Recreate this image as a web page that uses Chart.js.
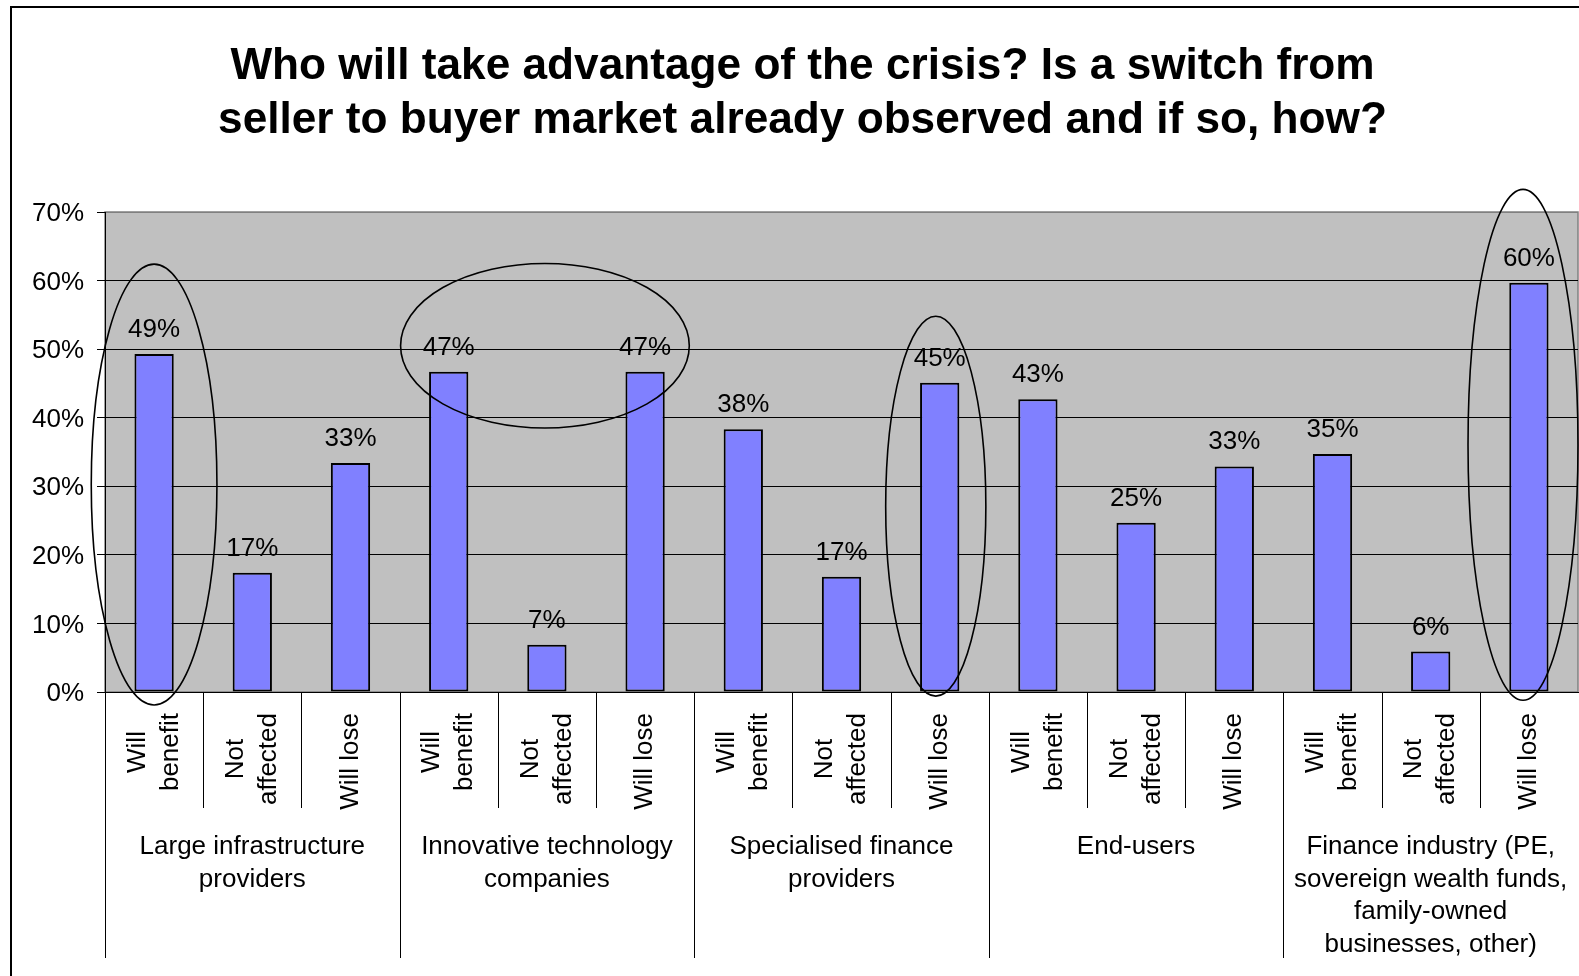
<!DOCTYPE html>
<html>
<head>
<meta charset="utf-8">
<title>Who will take advantage of the crisis?</title>
<script src="https://cdn.jsdelivr.net/npm/chart.js@4.4.1/dist/chart.umd.min.js"></script>
<style>
  html, body { margin: 0; padding: 0; background: #fff; }
  #wrap { width: 1579px; height: 976px; position: relative; }
</style>
</head>
<body>
<div id="wrap"><canvas id="myChart"></canvas></div>
<script>
// answers, repeated inside every group
const answers = [['Will', 'benefit'], ['Not', 'affected'], ['Will lose']];

// groups of market players (lines as wrapped in the original)
const groups = [
  ['Large infrastructure', 'providers'],
  ['Innovative technology', 'companies'],
  ['Specialised finance', 'providers'],
  ['End-users'],
  ['Finance industry (PE,', 'sovereign wealth funds,', 'family-owned', 'businesses, other)']
];

// share of answers in %, 3 per group
const shares = [49.3, 17.4, 33.4, 46.7, 6.9, 46.7, 38.3, 16.8, 45.1, 42.7, 24.7, 32.9, 34.7, 5.9, 59.7];

const yMax = 70;
const yStep = 10;

// hand drawn ellipses: centre (category index), half width (categories), low/high (%)
const circled = [
  { at: 0, half: 0.64, low: -1.9, high: 62.4 },
  { at: 3.98, half: 1.47, low: 38.5, high: 62.5 },
  { at: 7.96, half: 0.51, low: -0.6, high: 54.8 },
  { at: 13.94, half: 0.56, low: -1.2, high: 73.3 }
];

const family = '"Liberation Sans", Arial, sans-serif';
const textFont = '26px ' + family;

let labels = [];
groups.forEach(g => answers.forEach(a => labels.push(g.join(' ') + ' - ' + a.join(' '))));

const excelLook = {
  id: 'excelLook',
  beforeDraw(chart) {
    const { ctx, chartArea: a } = chart;
    ctx.save();
    ctx.fillStyle = '#fff';
    ctx.fillRect(0, 0, chart.width, chart.height);
    // outer chart frame
    ctx.strokeStyle = '#000';
    ctx.lineWidth = 2;
    ctx.strokeRect(11, 7, chart.width + 20, chart.height + 20);
    // plot area
    ctx.fillStyle = '#c0c0c0';
    ctx.fillRect(a.left, a.top, a.right - a.left, a.bottom - a.top);
    ctx.strokeStyle = '#808080';
    ctx.lineWidth = 1.5;
    ctx.strokeRect(a.left, a.top, a.right - a.left, a.bottom - a.top);
    ctx.restore();
  },
  afterDatasetsDraw(chart) {
    const ctx = chart.ctx;
    const meta = chart.getDatasetMeta(0);
    ctx.save();
    ctx.font = textFont;
    ctx.fillStyle = '#000';
    ctx.textAlign = 'center';
    ctx.textBaseline = 'alphabetic';
    meta.data.forEach((bar, i) => {
      ctx.fillText(Math.round(shares[i]) + '%', bar.x, bar.y - 17);
    });
    ctx.restore();
  },
  afterDraw(chart) {
    const { ctx, chartArea: a } = chart;
    const x = chart.scales.x;
    const y = chart.scales.y;
    ctx.save();

    // separators under the axis
    ctx.strokeStyle = '#000';
    ctx.lineWidth = 1;
    for (let k = 0; k < shares.length; k++) {
      const px = Math.round(x.getPixelForValue(k - 0.5)) + 0.5;
      ctx.beginPath();
      ctx.moveTo(px, a.bottom);
      ctx.lineTo(px, a.bottom + (k % 3 === 0 ? 266 : 116));
      ctx.stroke();
    }

    ctx.font = textFont;
    ctx.fillStyle = '#000';
    ctx.textAlign = 'center';
    ctx.textBaseline = 'middle';

    // rotated answer labels
    for (let i = 0; i < shares.length; i++) {
      const lines = answers[i % 3];
      const w = Math.max(...lines.map(l => ctx.measureText(l).width));
      ctx.save();
      ctx.translate(x.getPixelForValue(i), a.bottom + 21 + w / 2);
      ctx.rotate(-Math.PI / 2);
      lines.forEach((l, j) => ctx.fillText(l, 0, (j - (lines.length - 1) / 2) * 33));
      ctx.restore();
    }

    // group labels
    groups.forEach((g, gi) => {
      const cx = x.getPixelForValue(gi * 3 + 1);
      g.forEach((l, j) => ctx.fillText(l, cx, a.bottom + 155 + j * 32.6));
    });

    // ellipses
    ctx.strokeStyle = '#000';
    ctx.lineWidth = 1.6;
    circled.forEach(c => {
      const cx = x.getPixelForValue(c.at);
      const rx = x.getPixelForValue(c.at + c.half) - cx;
      const top = y.getPixelForValue(c.high);
      const bot = y.getPixelForValue(c.low);
      ctx.beginPath();
      ctx.ellipse(cx, (top + bot) / 2, rx, (bot - top) / 2, 0, 0, Math.PI * 2);
      ctx.stroke();
    });
    ctx.restore();
  }
};

var ctx = document.getElementById('myChart').getContext('2d');
var config = {
  type: 'bar',
  data: {
    labels: labels,
    datasets: [{
      data: shares,
      backgroundColor: '#8080ff',
      borderColor: '#000',
      borderWidth: 2,
      borderSkipped: false,
      barPercentage: 0.4,
      categoryPercentage: 1
    }]
  },
  options: {
    responsive: true,
    maintainAspectRatio: false,
    animation: false,
    layout: { padding: { left: 27, right: 1, top: 0, bottom: 284 } },
    plugins: {
      legend: { display: false },
      tooltip: { enabled: false },
      title: {
        display: true,
        text: ['Who will take advantage of the crisis? Is a switch from',
               'seller to buyer market already observed and if so, how?'],
        color: '#000',
        font: { family: family, size: 44.2, weight: 'bold', lineHeight: '54px' },
        padding: { top: 40, bottom: 64 }
      }
    },
    scales: {
      x: {
        grid: { display: false },
        ticks: { display: false },
        border: { color: '#000', width: 1 },
        afterFit: s => { s.height = 0; }
      },
      y: {
        min: 0,
        max: yMax,
        ticks: {
          stepSize: yStep,
          callback: v => v + '%',
          color: '#000',
          font: { family: family, size: 26 },
          padding: 13,
          labelOffset: 2
        },
        grid: {
          color: c => (c.tick && c.tick.value === yMax ? '#808080' : '#000'),
          tickColor: '#000',
          tickLength: 8,
          lineWidth: 1
        },
        border: { color: '#000', width: 1 },
        afterFit: s => { s.width = 78; }
      }
    }
  },
  plugins: [excelLook]
};

var chart = new Chart(ctx, config);
</script>
</body>
</html>
